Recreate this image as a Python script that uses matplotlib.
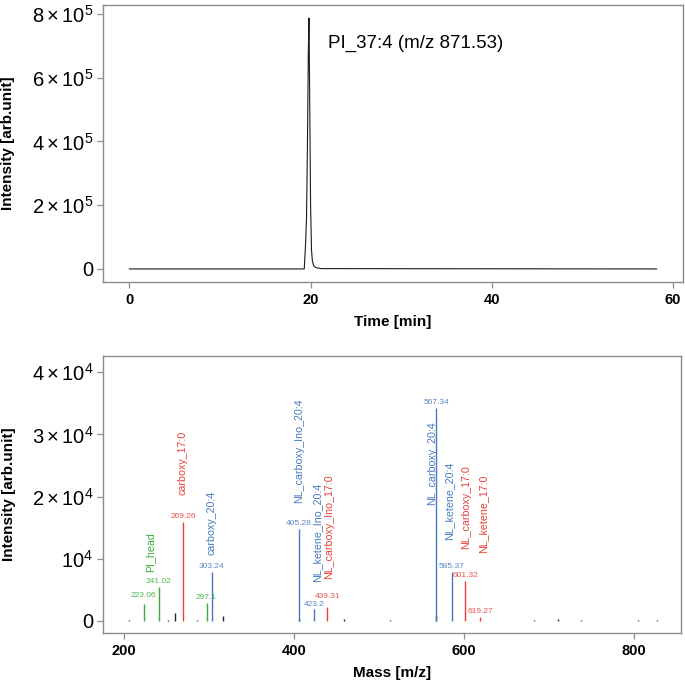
import numpy as np
import matplotlib
matplotlib.use("Agg")
import matplotlib.pyplot as plt
from matplotlib.ticker import FuncFormatter

plt.rcParams['font.family'] = ['Liberation Sans', 'DejaVu Sans']
plt.rcParams['mathtext.fontset'] = 'custom'
plt.rcParams['mathtext.rm'] = 'Liberation Sans'
plt.rcParams['mathtext.it'] = 'Liberation Sans:italic'
plt.rcParams['mathtext.bf'] = 'Liberation Sans:bold'

# chromatogram (extracted ion trace)
rt_min = [0, 19.3, 19.45, 19.55, 19.65, 19.75, 19.82, 19.9, 20.0, 20.1, 20.2, 20.35, 20.6, 21.2, 58.2]
xic_int = [0, 0, 8.0e4, 1.6e5, 3.8e5, 6.8e5, 7.87e5, 5.4e5, 2.0e5, 6.0e4, 2.5e4, 1.0e4, 4.0e3, 1.0e3, 0]
xic_label = "PI_37:4 (m/z 871.53)"

# unannotated fragment peaks (black)
other_mz = [206, 252, 260, 286, 316, 405.3, 459, 513, 567.3, 682, 711, 737, 805, 827]
other_int = [200, 200, 1240, 200, 800, 400, 250, 200, 900, 200, 250, 150, 150, 150]

# annotated fragment peaks
frag_mz = [223.06, 241.02, 269.26, 297.1, 303.24, 405.28, 423.2, 439.31, 567.34, 585.37, 601.32, 619.27]
frag_int = [2680, 5500, 15960, 2890, 7880, 14790, 1930, 2250, 34240, 7880, 6430, 640]
frag_group = ['head', 'head', 'fa17', 'head', 'fa20', 'fa20', 'fa20', 'fa17', 'fa20', 'fa20', 'fa17', 'fa17']
# label offset above peak top (points), repelled by hand
frag_lift = [4, 1.5, 1.5, 1.5, 1.5, 1.5, 0.5, 5, 1.5, 1.5, 1.5, 1.5]

# fragment names
name_text = ['PI_head', 'carboxy_17:0', 'carboxy_20:4', 'NL_carboxy_Ino_20:4', 'NL_ketene_Ino_20:4',
             'NL_carboxy_Ino_17:0', 'NL_carboxy_20:4', 'NL_ketene_20:4', 'NL_carboxy_17:0', 'NL_ketene_17:0']
name_group = ['head', 'fa17', 'fa20', 'fa20', 'fa20', 'fa17', 'fa20', 'fa20', 'fa17', 'fa17']
name_x = [231, 268.6, 302.5, 405.8, 427, 441, 562, 582, 602, 622]
name_y = [7880, 20260, 10610, 18970, 6270, 6750, 18650, 13020, 11580, 10930]

colors = {'head': '#3cab3c', 'fa17': '#e8403a', 'fa20': '#4679c0'}
frame_col = '#8c8c8c'


def sci_label(v, pos):
    if v == 0:
        return '0'
    e = int(np.floor(np.log10(abs(v)) + 1e-9))
    m = v / 10 ** e
    if abs(m - 1) < 1e-6:
        return r'$10^{%d}$' % e
    return r'$%d\times10^{%d}$' % (round(m), e)


def style_axes(ax):
    for s in ax.spines.values():
        s.set_color(frame_col)
        s.set_linewidth(1.0)
    ax.tick_params(axis='both', colors=frame_col, length=4, width=0.9, labelcolor='black')
    ax.tick_params(axis='y', labelsize=14.5, pad=3)
    ax.tick_params(axis='x', labelsize=10.5, pad=4)
    for lbl in ax.get_xticklabels():
        lbl.set_fontweight('bold')
    ax.yaxis.set_major_formatter(FuncFormatter(sci_label))
    ax.yaxis.set_label_coords(-0.151, 0.5)


fig = plt.figure(figsize=(6.85, 6.83), dpi=100)

# top: chromatogram
ax1 = fig.add_axes([0.1504, 0.5871, 0.8466, 0.4056])
ax1.plot(rt_min, xic_int, color='#1a1a1a', lw=0.8)
ax1.set_xticks([0, 20, 40, 60])
ax1.set_yticks([0, 2e5, 4e5, 6e5, 8e5])
ax1.set_xlim(-2.91, 61.1)
ax1.set_ylim(-4.1e4, 8.28e5)
ax1.text(21.9, 7.06e5, xic_label, fontsize=13.5, va='center', ha='left')
ax1.set_xlabel('Time [min]', fontsize=11, fontweight='bold', labelpad=6)
ax1.set_ylabel('Intensity [arb.unit]', fontsize=11, fontweight='bold')
style_axes(ax1)

# bottom: MS/MS spectrum
ax2 = fig.add_axes([0.1504, 0.0732, 0.8436, 0.4056])
ax2.vlines(other_mz, 0, other_int, color='#262626', lw=1.0)
for m, v, g, lift in zip(frag_mz, frag_int, frag_group, frag_lift):
    ax2.vlines(m, 0, v, color=colors[g], lw=1.0)
    ax2.annotate(f"{m:g}", (m, v), xytext=(0, lift), textcoords='offset points',
                 ha='center', va='bottom', fontsize=6, color=colors[g], alpha=0.9)
for t, g, x, y in zip(name_text, name_group, name_x, name_y):
    ax2.text(x, y, t, rotation=90, ha='center', va='bottom', fontsize=7.7, color=colors[g])
ax2.set_xticks([200, 400, 600, 800])
ax2.set_yticks([0, 1e4, 2e4, 3e4, 4e4])
ax2.set_xlim(175.3, 855)
ax2.set_ylim(-1930, 42600)
ax2.set_xlabel('Mass [m/z]', fontsize=11, fontweight='bold', labelpad=6)
ax2.set_ylabel('Intensity [arb.unit]', fontsize=11, fontweight='bold')
style_axes(ax2)

fig.savefig('out.png', dpi=100)
plt.close(fig)
